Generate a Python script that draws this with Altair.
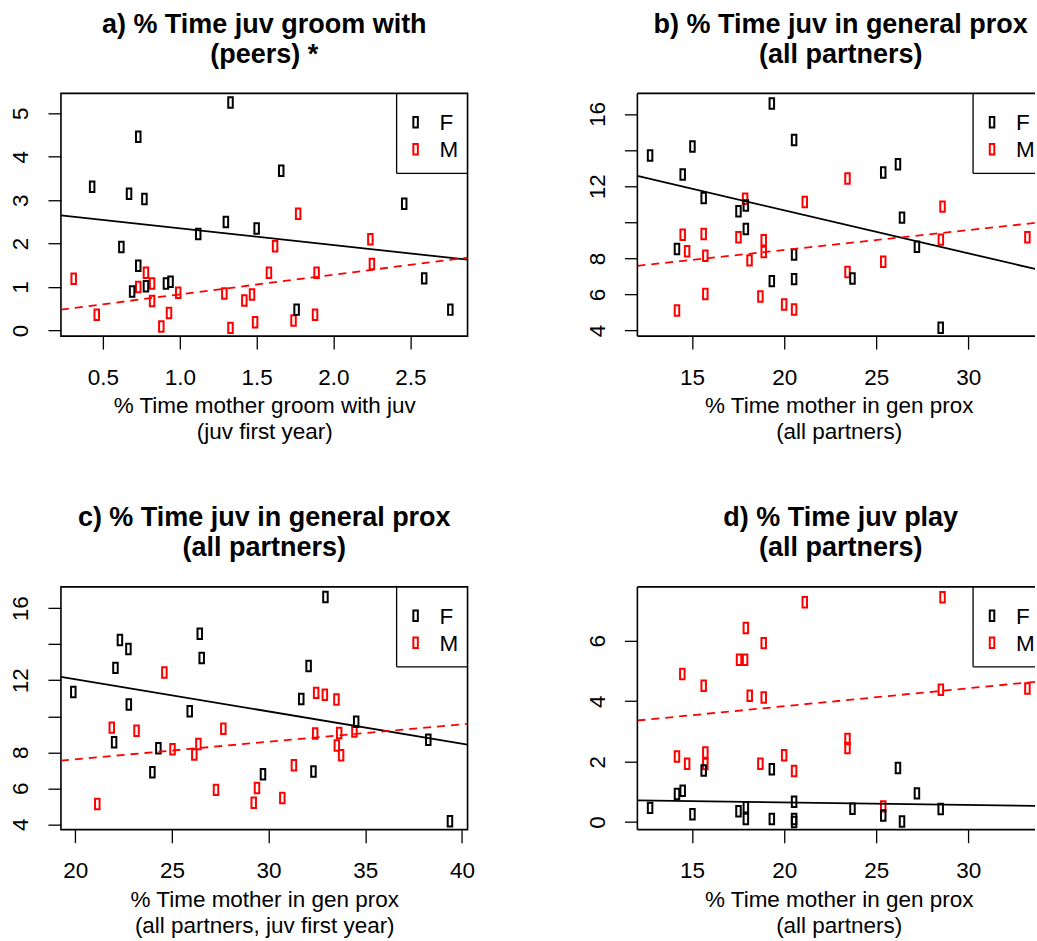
import altair as alt
import pandas as pd

FONT = "Liberation Sans"
SHAPE = "M-0.43,-1H0.43V1H-0.43Z"

# ---------------- Panel a ----------------
a_f_x = [1.33, 0.73, 0.43, 0.67, 0.77, 1.66, 2.46, 1.30, 1.50, 1.12, 0.62, 0.73, 0.69, 0.78, 0.91, 0.94, 1.76, 2.59, 2.76]
a_f_y = [5.25, 4.46, 3.31, 3.15, 3.03, 3.68, 2.92, 2.50, 2.35, 2.22, 1.92, 1.49, 0.90, 1.02, 1.08, 1.12, 0.48, 1.20, 0.48]
a_m_x = [0.31, 0.46, 0.78, 0.73, 0.82, 0.82, 0.88, 0.93, 0.99, 1.29, 1.33, 1.42, 1.47, 1.49, 1.62, 1.58, 1.77, 1.74, 1.89, 1.88, 2.24, 2.25]
a_m_y = [1.19, 0.36, 1.33, 1.00, 1.08, 0.68, 0.09, 0.40, 0.87, 0.85, 0.06, 0.69, 0.83, 0.19, 1.94, 1.33, 2.69, 0.23, 1.33, 0.36, 2.10, 1.53]
a_line_x = [0.227, 2.872]
a_line_f = [2.65, 1.63]
a_line_m = [0.48, 1.68]
a_xdom = [0.227, 2.872]
a_ydom = [-0.13, 5.46]
a_xticks = [0.5, 1.0, 1.5, 2.0, 2.5]
a_yticks = [0, 1, 2, 3, 4, 5]

# ---------------- Panel b ----------------
b_f_x = [12.72, 14.49, 15.02, 15.63, 17.52, 17.92, 17.92, 14.18, 19.33, 19.33, 20.54, 20.54, 20.54, 23.71, 25.38, 26.18, 26.40, 27.21, 28.50]
b_f_y = [13.70, 12.65, 14.20, 11.35, 10.61, 10.93, 9.63, 8.52, 16.59, 6.74, 14.57, 8.22, 6.85, 6.89, 12.76, 13.22, 10.26, 8.65, 4.15]
b_m_x = [14.18, 14.49, 14.73, 15.63, 15.72, 15.72, 17.52, 17.88, 18.12, 18.89, 18.89, 18.71, 20.00, 20.54, 21.12, 23.44, 23.44, 25.38, 28.60, 28.51, 33.21]
b_m_y = [5.11, 9.31, 8.39, 9.35, 8.15, 6.02, 9.17, 11.31, 7.89, 9.00, 8.35, 5.89, 5.44, 5.17, 11.13, 12.43, 7.24, 7.81, 10.87, 9.04, 9.17]
b_line_x = [12.03, 34.11]
b_line_f = [12.57, 7.30]
b_line_m = [7.59, 10.02]
b_xdom = [12.03, 34.11]
b_ydom = [3.69, 17.15]
b_xticks = [15, 20, 25, 30]
b_yticks = [4, 6, 8, 10, 12, 14, 16]

# ---------------- Panel c ----------------
c_f_x = [19.90, 22.08, 22.31, 22.75, 22.77, 22.01, 23.99, 24.30, 25.92, 26.44, 26.54, 29.71, 31.69, 32.07, 32.32, 32.94, 34.53, 38.26, 39.38]
c_f_y = [11.35, 12.69, 14.24, 13.74, 10.65, 8.56, 6.89, 8.22, 10.28, 14.59, 13.24, 6.78, 10.96, 12.80, 6.93, 16.63, 9.69, 8.69, 4.17]
c_m_x = [21.14, 21.89, 23.17, 24.61, 25.03, 26.16, 26.37, 27.28, 27.66, 29.23, 29.40, 30.71, 31.31, 32.41, 32.46, 32.91, 33.51, 33.53, 33.65, 33.75, 34.44]
c_m_y = [5.13, 9.37, 9.19, 12.43, 8.17, 7.87, 8.46, 5.91, 9.31, 5.19, 6.02, 5.46, 7.28, 9.04, 11.30, 11.19, 10.93, 8.37, 9.07, 7.83, 9.15]
c_line_x = [19.26, 40.29]
c_line_f = [12.19, 8.43]
c_line_m = [7.54, 9.58]
c_xdom = [19.26, 40.29]
c_ydom = [3.70, 17.19]
c_xticks = [20, 25, 30, 35, 40]
c_yticks = [4, 6, 8, 10, 12, 14, 16]

# ---------------- Panel d ----------------
d_f_x = [12.72, 14.18, 14.49, 15.02, 15.63, 17.52, 17.92, 17.92, 19.33, 19.33, 20.54, 20.54, 20.54, 23.71, 25.38, 26.18, 26.40, 27.21, 28.50]
d_f_y = [0.47, 0.93, 1.04, 0.26, 1.71, 0.36, 0.49, 0.10, 1.75, 0.10, 0.67, 0.10, 0.00, 0.44, 0.22, 1.79, 0.02, 0.95, 0.43]
d_m_x = [14.18, 14.47, 14.73, 15.63, 15.72, 15.72, 17.55, 17.88, 17.92, 18.13, 18.89, 18.89, 18.71, 20.00, 20.54, 21.12, 23.44, 23.44, 25.38, 28.60, 28.51, 33.21]
d_m_y = [2.17, 4.90, 1.93, 4.51, 2.30, 1.92, 5.37, 5.37, 6.42, 4.18, 5.92, 4.12, 1.93, 2.21, 1.69, 7.27, 2.75, 2.45, 0.52, 7.44, 4.38, 4.42]
d_line_x = [12.03, 34.11]
d_line_f = [0.72, 0.535]
d_line_m = [3.36, 4.67]
d_xdom = [12.03, 34.11]
d_ydom = [-0.25, 7.78]
d_xticks = [15, 20, 25, 30]
d_yticks = [0, 2, 4, 6]

legend_labels = ["F", "M"]
legend_colors = ["black", "red"]

titles = {
    "a": ["a) % Time juv groom with", "(peers) *"],
    "b": ["b) % Time juv in general prox", "(all partners)"],
    "c": ["c) % Time juv in general prox", "(all partners)"],
    "d": ["d) % Time juv play", "(all partners)"],
}
xtitles = {
    "a": ["% Time mother groom with juv", "(juv first year)"],
    "b": ["% Time mother in gen prox", "(all partners)"],
    "c": ["% Time mother in gen prox", "(all partners, juv first year)"],
    "d": ["% Time mother in gen prox", "(all partners)"],
}

# layout (pixels)
W_FULL, H = 407, 243
W_CUT = 398            # right-hand panels run past the page edge in the reference
LEG_X0, LEG_Y1 = 336, 80
SYM_X, TXT_X = 355, 379
ROW_Y = [29, 56]
BORDER = 1.6


def panel(key, fx, fy, mx, my, lx, lf, lm, xdom, ydom, xticks, yticks, xfmt, hide, cut=False):
    width = W_CUT if cut else W_FULL
    if cut:
        xdom = [xdom[0], xdom[0] + (xdom[1] - xdom[0]) * W_CUT / W_FULL]

    pts = pd.DataFrame({
        "x": list(mx) + list(fx),
        "y": list(my) + list(fy),
        "sex": ["M"] * len(mx) + ["F"] * len(fx),
    })
    lines_f = pd.DataFrame({"x": lx, "y": lf})
    lines_m = pd.DataFrame({"x": lx, "y": lm})

    label_expr = "datum.label"
    if hide:
        label_expr = "(" + " || ".join("datum.value == %s" % h for h in hide) + ") ? '' : datum.label"

    xs = alt.Scale(domain=xdom, nice=False, zero=False)
    ys = alt.Scale(domain=ydom, nice=False, zero=False)
    xaxis_kw = dict(values=xticks, format=xfmt, title=xtitles[key], domain=False, grid=False,
                    tickSize=13, tickWidth=1.3, tickColor="black",
                    labelFont=FONT, labelFontSize=22.5, labelColor="black", labelPadding=17,
                    labelFlush=False, labelOverlap=False,
                    titleFont=FONT, titleFontSize=22.5, titleFontWeight="normal", titleColor="black",
                    titlePadding=6, titleLineHeight=26)
    if cut:
        xaxis_kw["titleX"] = W_FULL / 2 - 2
    xaxis = alt.Axis(**xaxis_kw)
    yaxis = alt.Axis(values=yticks, title=None, domain=False, grid=False,
                     tickSize=13, tickWidth=1.3, tickColor="black",
                     labelFont=FONT, labelFontSize=22.5, labelColor="black", labelPadding=15,
                     labelAngle=270, labelAlign="center", labelBaseline="bottom",
                     labelFlush=False, labelOverlap=False, labelExpr=label_expr)

    points = alt.Chart(pts).mark_point(shape=SHAPE, size=110, strokeWidth=2, filled=False, opacity=1).encode(
        x=alt.X("x:Q", scale=xs, axis=xaxis),
        y=alt.Y("y:Q", scale=ys, axis=yaxis),
        color=alt.Color("sex:N", scale=alt.Scale(domain=["F", "M"], range=["black", "red"]), legend=None),
        order=alt.Order("sex:N", sort="descending"),
    )
    lf_chart = alt.Chart(lines_f).mark_line(color="black", strokeWidth=1.8, clip=True).encode(
        x=alt.X("x:Q", scale=xs), y=alt.Y("y:Q", scale=ys))
    lm_chart = alt.Chart(lines_m).mark_line(color="red", strokeWidth=1.8, strokeDash=[8, 6], clip=True).encode(
        x=alt.X("x:Q", scale=xs), y=alt.Y("y:Q", scale=ys))

    base = alt.Chart(pd.DataFrame({"k": [0]}))
    layers = [points, lf_chart, lm_chart]
    # legend box (top and right sides are the plot frame)
    layers.append(base.mark_rule(color="black", strokeWidth=1.3).encode(
        x=alt.value(LEG_X0), y=alt.value(0), y2=alt.value(LEG_Y1)))
    layers.append(base.mark_rule(color="black", strokeWidth=1.3).encode(
        x=alt.value(LEG_X0), x2=alt.value(width), y=alt.value(LEG_Y1)))
    for lab, col, ry in zip(legend_labels, legend_colors, ROW_Y):
        layers.append(base.mark_point(shape=SHAPE, size=110, strokeWidth=2, filled=False,
                                      color=col, opacity=1).encode(x=alt.value(SYM_X), y=alt.value(ry)))
        layers.append(base.mark_text(text=lab, font=FONT, fontSize=22.5, color="black", align="left",
                                     baseline="alphabetic").encode(x=alt.value(TXT_X), y=alt.value(ry + 8)))
    view = alt.ViewBackground(stroke="black", strokeWidth=BORDER)
    if cut:
        view = alt.ViewBackground(stroke="transparent")
        layers.append(base.mark_rule(color="black", strokeWidth=BORDER).encode(
            x=alt.value(0), y=alt.value(0), y2=alt.value(H)))
        layers.append(base.mark_rule(color="black", strokeWidth=BORDER).encode(
            x=alt.value(0), x2=alt.value(width), y=alt.value(0)))
        layers.append(base.mark_rule(color="black", strokeWidth=BORDER).encode(
            x=alt.value(0), x2=alt.value(width), y=alt.value(H)))

    return alt.layer(*layers).properties(
        width=width, height=H, view=view,
        title=alt.TitleParams(text=titles[key], font=FONT, fontSize=27, fontWeight="bold", color="black",
                              anchor="middle", frame="group", offset=24, lineHeight=30,
                              dx=(W_FULL - W_CUT) / 2 if cut else 0),
    )


pa = panel("a", a_f_x, a_f_y, a_m_x, a_m_y, a_line_x, a_line_f, a_line_m, a_xdom, a_ydom, a_xticks, a_yticks, ".1f", [])
pb = panel("b", b_f_x, b_f_y, b_m_x, b_m_y, b_line_x, b_line_f, b_line_m, b_xdom, b_ydom, b_xticks, b_yticks, "d", [10, 14], cut=True)
pc = panel("c", c_f_x, c_f_y, c_m_x, c_m_y, c_line_x, c_line_f, c_line_m, c_xdom, c_ydom, c_xticks, c_yticks, "d", [10, 14])
pd_ = panel("d", d_f_x, d_f_y, d_m_x, d_m_y, d_line_x, d_line_f, d_line_m, d_xdom, d_ydom, d_xticks, d_yticks, "d", [], cut=True)

top = alt.hconcat(pa, pb, spacing=170, bounds="flush").resolve_scale(
    color="independent", x="independent", y="independent")
bottom = alt.hconcat(pc, pd_, spacing=170, bounds="flush").resolve_scale(
    color="independent", x="independent", y="independent")

chart = alt.vconcat(top, bottom, spacing=494, bounds="flush").resolve_scale(
    color="independent", x="independent", y="independent").properties(
    padding={"left": 9, "top": 9, "right": 0, "bottom": 0},
    background="white",
).configure(font=FONT)

chart.save("out.html", embed_options={"renderer": "svg", "actions": False})
